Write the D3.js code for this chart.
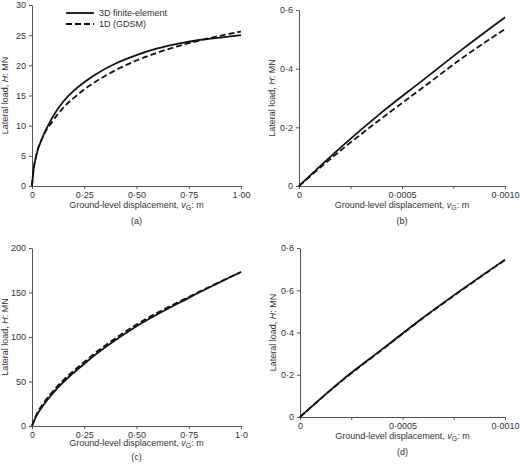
<!DOCTYPE html><html><head><script src="https://d3js.org/d3.v7.min.js"></script>
<style>body{margin:0;background:#fff}text{font-family:"Liberation Sans",Arial,sans-serif;fill:#333}</style></head><body><svg id="s" width="520" height="465"></svg><script>
const aX=[0,0.005,0.02,0.05,0.1,0.15,0.2,0.25,0.3,0.4,0.5,0.6,0.7,0.8,0.9,1.0];
const aFE=[0,2,5,8,11.5,14,15.8,17.2,18.4,20.3,21.7,22.8,23.6,24.2,24.6,25];
const aGD=[0,2,5,8,10.8,13,14.6,16,17.2,19.2,20.8,22.1,23.2,24.1,24.9,25.6];
const bX=[0,0.0002,0.0004,0.0006,0.0008,0.001];
const bFE=[0,0.13,0.25,0.36,0.47,0.575];
const bGD=[0,0.12,0.23,0.335,0.44,0.535];
const cX=[0,0.02,0.05,0.1,0.25,0.5,0.75,1.0];
const cFE=[0,11,22,37,70,112,144,173];
const cGD=[0,12,24,39,72,114,145,173];
const dX=[0,0.0002,0.0004,0.0006,0.0008,0.001];
const dFE=[0,0.17,0.32,0.47,0.61,0.745];
const dGD=[0,0.168,0.318,0.468,0.608,0.743];
const fmt=v=>String(v).replace('.','·');
const panels=[
 {x0:32,x1:241,y0:186,y1:5,xd:[0,1],yd:[0,30],xt:[0,0.25,0.5,0.75,1],xl:["0","0·25","0·50","0·75","1·00"],yt:[0,5,10,15,20,25,30],minor:[],X:aX,A:aFE,B:aGD,lab:"(a)",legend:true,t1:22,t2:38},
 {x0:299,x1:505,y0:186,y1:10,xd:[0,0.001],yd:[0,0.6],xt:[0,0.0005,0.001],xl:["0","0·0005","0·0010"],yt:[0,0.2,0.4,0.6],minor:[0.00025,0.00075],X:bX,A:bFE,B:bGD,lab:"(b)",t1:22,t2:38},
 {x0:32,x1:241,y0:426,y1:248,xd:[0,1],yd:[0,200],xt:[0,0.25,0.5,0.75,1],xl:["0","0·25","0·50","0·75","1·0"],yt:[0,50,100,150,200],minor:[],X:cX,A:cFE,B:cGD,lab:"(c)",t1:20,t2:34},
 {x0:300,x1:505,y0:417,y1:248,xd:[0,0.001],yd:[0,0.8],xt:[0,0.0005,0.001],xl:["0","0·0005","0·0010"],yt:[0,0.2,0.4,0.6,0.8],minor:[0.00025,0.00075],X:dX,A:dFE,B:dGD,lab:"(d)",t1:22,t2:38}];
const svg=d3.select("#s");
panels.forEach(p=>{
 const x=d3.scaleLinear().domain(p.xd).range([p.x0,p.x1]);
 const y=d3.scaleLinear().domain(p.yd).range([p.y0,p.y1]);
 const g=svg.append("g");
 g.append("g").attr("transform",`translate(0,${p.y0})`).call(d3.axisBottom(x).tickValues(p.xt.concat(p.minor)).tickFormat(v=>{const i=p.xt.indexOf(v);return i<0?"":p.xl[i]}).tickSize(3).tickSizeOuter(0));
 g.append("g").attr("transform",`translate(${p.x0},0)`).call(d3.axisLeft(y).tickValues(p.yt).tickFormat(fmt).tickSize(3).tickSizeOuter(0));
 g.selectAll(".domain,.tick line").attr("stroke","#555");
 g.selectAll(".tick text").attr("font-size",9).attr("fill","#333").style("font-family","Liberation Sans,Arial");
 const ln=d3.line().x((d,i)=>x(p.X[i])).y(d=>y(d)).curve(d3.curveMonotoneX);
 g.append("path").attr("d",ln(p.B)).attr("fill","none").attr("stroke","#111").attr("stroke-width",1.8).attr("stroke-dasharray","6,3");
 g.append("path").attr("d",ln(p.A)).attr("fill","none").attr("stroke","#111").attr("stroke-width",1.8);
 const cx=(p.x0+p.x1)/2;
 const t=g.append("text").attr("x",cx).attr("y",p.y0+p.t1).attr("text-anchor","middle").attr("font-size",9);
 t.append("tspan").text("Ground-level displacement, ");t.append("tspan").attr("font-style","italic").text("v");
 t.append("tspan").attr("font-size",7).attr("dy",2).text("G");t.append("tspan").attr("dy",-2).text(": m");
 g.append("text").attr("x",cx).attr("y",p.y0+p.t2).attr("text-anchor","middle").attr("font-size",9).text(p.lab);
 const yt=g.append("text").attr("transform",`translate(${p.x0-24},${(p.y0+p.y1)/2}) rotate(-90)`).attr("text-anchor","middle").attr("font-size",9);
 yt.append("tspan").text("Lateral load, ");yt.append("tspan").attr("font-style","italic").text("H");yt.append("tspan").text(": MN");
 if(p.legend){
  [["3D finite-element",null],["1D (GDSM)","6,3"]].forEach((L,i)=>{
   const yy=13+i*11;
   g.append("line").attr("x1",66).attr("x2",94).attr("y1",yy).attr("y2",yy).attr("stroke","#111").attr("stroke-width",1.8).attr("stroke-dasharray",L[1]);
   g.append("text").attr("x",99).attr("y",yy+3).attr("font-size",9).text(L[0]);
  });
 }
});
</script></body></html>
